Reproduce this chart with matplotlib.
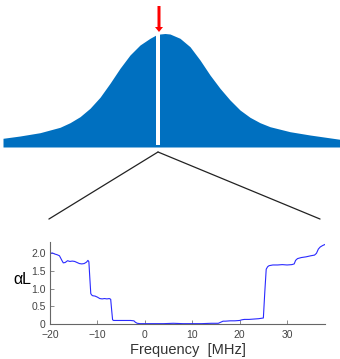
import matplotlib.pyplot as plt
from matplotlib.patches import ConnectionPatch

plt.rcParams["font.family"] = ["Liberation Sans", "DejaVu Sans"]

# -----------------------------
# Data
# -----------------------------
# schematic line profile (position, height) for the top sketch
profile_x = [0, 17, 37, 57, 67, 77, 87, 97, 107, 117, 127, 137, 147, 153, 157,
             162, 167, 177, 187, 197, 207, 217, 227, 237, 247, 257, 267, 287, 307, 337]
profile_h = [8.7, 11, 14.3, 19.7, 24.3, 30.3, 38.7, 49.7, 63.7, 78.7, 92, 102, 108.7, 112, 113,
             113.5, 113, 108.7, 100.3, 87, 72, 58.7, 47, 37, 29.7, 24.3, 20.3, 15.3, 12, 7.7]
hole_pos = 155      # burnt spectral hole
hole_width = 4

# measured absorption spectrum
freq = [-20, -19.5, -19, -18.5, -18, -17.5, -17.2, -16.8, -16.3, -15.8, -15.3,
        -14.8, -14.3, -13.8, -13.3, -12.8, -12.3, -12.0, -11.8, -11.6, -11.4,
        -11.2, -11.0, -10.5, -10.0, -9.5, -9.0, -8.5, -8.0, -7.5, -7.2, -7.0,
        -6.8, -6.6, -6.0, -5.0, -4.0, -3.0, -2.3, -2.0, -1.6, -1.0, 0, 2, 4, 6,
        8, 10, 12, 14, 15.5, 16, 16.5, 17, 18, 19, 20, 20.5, 21, 22, 23, 24, 25,
        25.3, 25.6, 25.9, 26.2, 26.6, 27, 28, 29, 30, 31, 31.5, 31.8, 32.2, 33,
        34, 35, 35.8, 36.2, 36.6, 37, 37.5, 38]
alpha_l = [2.00, 2.01, 1.98, 1.96, 1.93, 1.80, 1.73, 1.74, 1.79, 1.77, 1.78,
           1.77, 1.74, 1.71, 1.70, 1.71, 1.75, 1.80, 1.76, 1.30, 0.86,
           0.82, 0.80, 0.79, 0.76, 0.72, 0.71, 0.72, 0.71, 0.72, 0.70, 0.40,
           0.12, 0.10, 0.10, 0.10, 0.10, 0.10, 0.09, 0.05, 0.02, 0.01, 0.01, 0.01, 0.01, 0.02,
           0.01, 0.01, 0.01, 0.02, 0.02, 0.05, 0.08, 0.08, 0.09, 0.09, 0.10, 0.12, 0.13, 0.13, 0.14, 0.15, 0.17,
           0.90, 1.55, 1.62, 1.65, 1.66, 1.67, 1.67, 1.68, 1.67, 1.68, 1.70, 1.80, 1.85, 1.88,
           1.90, 1.93, 1.95, 2.00, 2.12, 2.18, 2.22, 2.25]

x_ticks = [-20, -10, 0, 10, 20, 30]
y_ticks = [0, 0.5, 1.0, 1.5, 2.0]
y_tick_labels = ["0", "0.5", "1.0", "1.5", "2.0"]

# -----------------------------
# Figure
# -----------------------------
W, H = 340, 359
fig = plt.figure(figsize=(W / 100, H / 100), dpi=100)

# top sketch: inhomogeneous line with a spectral hole
ax_top = fig.add_axes([3 / W, 1 - 147 / H, 337 / W, 147 / H])
ax_top.fill_between(profile_x, 0, profile_h, color="#0070c0", lw=0)
ax_top.bar(hole_pos, 125, bottom=2, width=hole_width, color="white", lw=0)
ax_top.arrow(hole_pos + 1, 141, 0, -26, width=3, head_width=8, head_length=5,
             color="#ff0000", length_includes_head=True, lw=0)
ax_top.set_xlim(0, 337)
ax_top.set_ylim(0, 147)
ax_top.axis("off")

# bottom: measured spectrum
ax = fig.add_axes([50 / W, 1 - 324 / H, 275 / W, 82 / H])
ax.plot(freq, alpha_l, color="#2a2aff", lw=0.8)
ax.set_xlim(-20, 38)
ax.set_ylim(0, 2.32)
ax.set_xticks(x_ticks)
ax.set_yticks(y_ticks)
ax.set_yticklabels(y_tick_labels)
ax.tick_params(direction="in", length=3, width=0.6, color="#777777",
               labelsize=7.5, labelcolor="#444444")
ax.tick_params(axis="y", pad=3)
ax.tick_params(axis="x", pad=4.5)
for side in ["top", "right"]:
    ax.spines[side].set_visible(False)
for side in ["left", "bottom"]:
    ax.spines[side].set_color("#666666")
    ax.spines[side].set_linewidth(0.8)
ax.set_xlabel("Frequency  [MHz]", fontsize=10.5, color="#333333", labelpad=2)
ax.text(-0.10, 0.54, "αL", transform=ax.transAxes, fontsize=11.5,
        ha="center", va="center")

# zoom lines from the hole to the measured spectrum
for xb in [-0.004, 0.982]:
    con = ConnectionPatch(xyA=(hole_pos, -5), coordsA=ax_top.transData,
                          xyB=(xb, 1.28), coordsB=ax.transAxes,
                          color="#222222", lw=0.9)
    fig.add_artist(con)

plt.savefig("out.png", dpi=100)
